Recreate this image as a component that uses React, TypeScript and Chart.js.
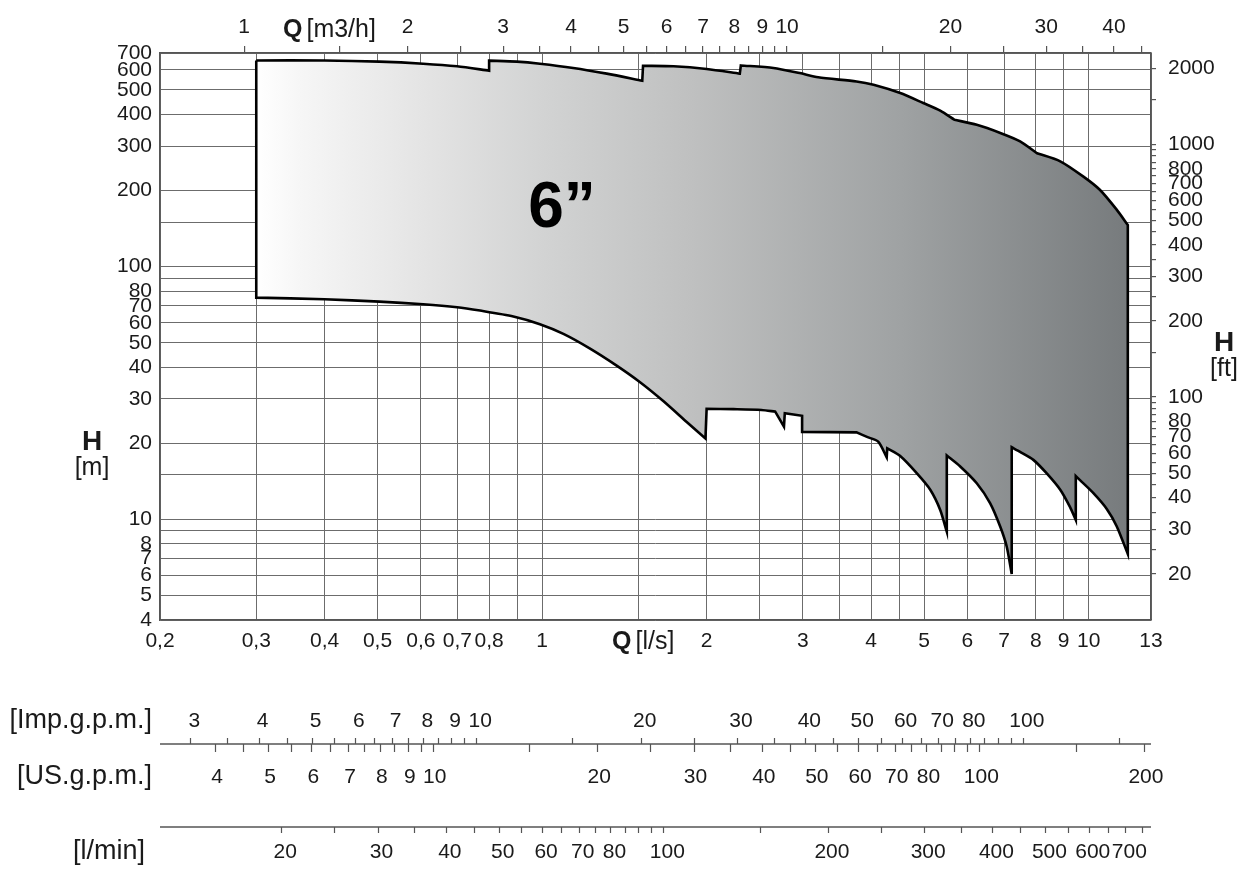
import React, { useEffect, useRef } from 'react';
import { Chart, registerables } from 'chart.js';

Chart.register(...registerables);

const FONT = '"Liberation Sans", Arial, Helvetica, sans-serif';

// Upper boundary of the 6" range, left to right (Q in l/s, H in m)
const upperQ = [0.3, 0.4, 0.504, 0.606, 0.699, 0.8, 0.8, 0.899, 0.991, 1.14, 1.313, 1.525, 1.53, 1.74, 2.0, 2.3, 2.31, 2.65, 2.96, 3.2, 3.76, 4.04, 4.52, 4.98, 5.35, 5.68, 6.24, 6.89, 7.49, 8.04, 8.87, 9.78, 10.49, 11.25, 11.79];
const upperH = [654, 654, 647, 635, 620, 596, 653, 647, 635, 611, 580, 544, 623, 620, 605, 580, 625, 611, 583, 561, 540, 524, 486, 444, 414, 381, 364, 338, 313, 281, 261, 227, 201, 168, 146];
// bends on the upper boundary that stay sharp
const upperKinks = [5.68, 8.04];

// Lower boundary of the 6" range, left to right (Q in l/s, H in m)
const lowerQ = [0.3, 0.4, 0.504, 0.606, 0.699, 0.77, 0.886, 0.991, 1.094, 1.224, 1.369, 1.511, 1.666, 1.839, 1.99, 2.0, 2.24, 2.52, 2.67, 2.77, 2.78, 2.99, 2.99, 3.76, 3.93, 4.12, 4.27, 4.28, 4.52, 4.85, 5.13, 5.35, 5.5, 5.5, 5.82, 6.24, 6.6, 6.89, 7.08, 7.23, 7.23, 7.49, 7.92, 8.38, 8.87, 9.24, 9.47, 9.47, 9.64, 10.2, 10.79, 11.25, 11.79];
const lowerH = [75.4, 74.3, 72.7, 71.0, 69.1, 67.0, 63.5, 59.2, 54.2, 47.4, 40.6, 34.9, 29.4, 24.3, 20.9, 27.4, 27.3, 27.1, 26.7, 23.3, 26.3, 25.7, 22.2, 22.1, 21.2, 20.3, 17.6, 19.1, 17.8, 15.2, 13.1, 10.9, 8.94, 17.9, 16.2, 13.9, 11.6, 9.35, 7.8, 6.08, 19.3, 18.5, 17.2, 15.2, 13.1, 11.2, 9.94, 14.85, 14.3, 12.7, 11.0, 9.4, 7.3];
// bends on the lower boundary that stay sharp
const lowerKinks = [2.67, 3.76];

// Q [l/s] axis
const qGrid = [0.2, 0.3, 0.4, 0.5, 0.6, 0.7, 0.8, 0.9, 1, 1.5, 2, 2.5, 3, 3.5, 4, 4.5, 5, 6, 7, 8, 9, 10, 13];
const qLabeled = [0.2, 0.3, 0.4, 0.5, 0.6, 0.7, 0.8, 1, 2, 3, 4, 5, 6, 7, 8, 9, 10, 13];
// H [m] axis
const hGrid = [4, 5, 6, 7, 8, 9, 10, 15, 20, 30, 40, 50, 60, 70, 80, 90, 100, 150, 200, 300, 400, 500, 600, 700];
const hLabeled = [4, 5, 6, 7, 8, 10, 20, 30, 40, 50, 60, 70, 80, 100, 200, 300, 400, 500, 600, 700];
// H [ft] axis
const ftTicks = [20, 25, 30, 35, 40, 45, 50, 55, 60, 65, 70, 75, 80, 85, 90, 95, 100, 150, 200, 250, 300, 350, 400, 450, 500, 550, 600, 650, 700, 750, 800, 850, 900, 950, 1000, 1500, 2000];
const ftLabeled = [20, 30, 40, 50, 60, 70, 80, 100, 200, 300, 400, 500, 600, 700, 800, 1000, 2000];
// Q [m3/h] axis
const m3hTicks = [1, 1.5, 2, 2.5, 3, 3.5, 4, 4.5, 5, 5.5, 6, 6.5, 7, 7.5, 8, 8.5, 9, 9.5, 10, 15, 20, 25, 30, 35, 40, 45];
const m3hLabeled = [1, 2, 3, 4, 5, 6, 7, 8, 9, 10, 20, 30, 40];
// Imp.g.p.m. axis
const impTicks = [3, 3.5, 4, 4.5, 5, 5.5, 6, 6.5, 7, 7.5, 8, 8.5, 9, 9.5, 10, 15, 20, 25, 30, 35, 40, 45, 50, 55, 60, 65, 70, 75, 80, 85, 90, 95, 100, 150];
const impLabeled = [3, 4, 5, 6, 7, 8, 9, 10, 20, 30, 40, 50, 60, 70, 80, 100];
// US.g.p.m. axis
const usTicks = [4, 4.5, 5, 5.5, 6, 6.5, 7, 7.5, 8, 8.5, 9, 9.5, 10, 15, 20, 25, 30, 35, 40, 45, 50, 55, 60, 65, 70, 75, 80, 85, 90, 95, 100, 150, 200];
const usLabeled = [4, 5, 6, 7, 8, 9, 10, 20, 30, 40, 50, 60, 70, 80, 100, 200];
// l/min axis
const lminTicks = [20, 25, 30, 35, 40, 45, 50, 55, 60, 65, 70, 75, 80, 85, 90, 95, 100, 150, 200, 250, 300, 350, 400, 450, 500, 550, 600, 650, 700, 750];
const lminLabeled = [20, 30, 40, 50, 60, 70, 80, 100, 200, 300, 400, 500, 600, 700];

const M_TO_FT = 3.28084;
const LS_TO_M3H = 3.6;
const IMP_TO_LS = 4.54609 / 60;
const US_TO_LS = 3.785412 / 60;
const LMIN_TO_LS = 1 / 60;

const fmtComma = (v: number) => String(v).replace('.', ',');

// Builds the boundary points; sharp corners are doubled so the spline keeps them pointed.
function boundary(qs: number[], hs: number[], kinks: number[]) {
  const pts: { x: number; y: number }[] = [];
  const n = qs.length;
  const near = (a: number, b: number) => Math.abs(Math.log(a / b)) < 0.01;
  for (let i = 0; i < n; i++) {
    const p = { x: qs[i], y: hs[i] };
    const sharp =
      i === 0 ||
      i === n - 1 ||
      kinks.includes(qs[i]) ||
      (i > 0 && near(qs[i], qs[i - 1])) ||
      (i < n - 1 && near(qs[i], qs[i + 1]));
    pts.push(p);
    if (sharp) pts.push({ ...p });
  }
  return pts;
}

function drawTitle(ctx: CanvasRenderingContext2D, bold: string, rest: string, x: number, y: number, size: number) {
  ctx.textAlign = 'left';
  ctx.font = `bold ${size}px ${FONT}`;
  ctx.fillText(bold, x, y);
  const w = ctx.measureText(bold).width;
  ctx.font = `${size}px ${FONT}`;
  ctx.fillText(rest, x + w + 4, y);
}

const overlay = {
  id: 'overlay',
  afterDraw(chart: any) {
    const ctx: CanvasRenderingContext2D = chart.ctx;
    const xs = chart.scales.x;
    ctx.save();
    ctx.fillStyle = '#1a1a1a';
    ctx.textBaseline = 'middle';

    // axis titles
    drawTitle(ctx, 'Q', '[m3/h]', 283, 30, 25);
    drawTitle(ctx, 'Q', '[l/s]', 612, 642, 25);
    ctx.textAlign = 'center';
    ctx.font = `bold 28px ${FONT}`;
    ctx.fillText('H', 92, 442);
    ctx.fillText('H', 1224, 343);
    ctx.font = `25px ${FONT}`;
    ctx.fillText('[m]', 92, 468);
    ctx.fillText('[ft]', 1224, 369);

    // range label
    ctx.font = `bold 64px ${FONT}`;
    ctx.fillStyle = '#000';
    ctx.fillText('6\u201d', 562, 209);

    // extra flow scales under the chart
    const left = xs.left;
    const right = xs.right;
    ctx.strokeStyle = '#555';
    const hline = (y: number) => {
      ctx.lineWidth = 1.6;
      ctx.beginPath();
      ctx.moveTo(left, y);
      ctx.lineTo(right, y);
      ctx.stroke();
    };
    const ticks = (vals: number[], f: number, y0: number, y1: number) => {
      ctx.lineWidth = 1.2;
      for (const v of vals) {
        const px = Math.round(xs.getPixelForValue(v * f)) + 0.5;
        ctx.beginPath();
        ctx.moveTo(px, y0);
        ctx.lineTo(px, y1);
        ctx.stroke();
      }
    };
    const labels = (vals: number[], f: number, y: number, dx: number) => {
      ctx.fillStyle = '#1a1a1a';
      ctx.font = `21px ${FONT}`;
      ctx.textAlign = 'center';
      for (const v of vals) {
        ctx.fillText(String(v), xs.getPixelForValue(v * f) + dx, y);
      }
    };
    hline(744);
    ticks(impTicks, IMP_TO_LS, 744, 738);
    ticks(usTicks, US_TO_LS, 744, 752);
    labels(impLabeled, IMP_TO_LS, 721, 4);
    labels(usLabeled, US_TO_LS, 777, 2);
    hline(827);
    ticks(lminTicks, LMIN_TO_LS, 827, 833);
    labels(lminLabeled, LMIN_TO_LS, 852, 4);

    ctx.textAlign = 'right';
    ctx.font = `27px ${FONT}`;
    ctx.fillText('[Imp.g.p.m.]', 152, 721);
    ctx.fillText('[US.g.p.m.]', 152, 777);
    ctx.fillText('[l/min]', 145, 852);
    ctx.restore();
  },
};

export default function App() {
  const ref = useRef<HTMLCanvasElement>(null);

  useEffect(() => {
    const canvas = ref.current;
    if (!canvas) return;

    const upperPts = boundary(upperQ, upperH, upperKinks);
    const lowerPts = boundary(lowerQ, lowerH, lowerKinks).reverse();
    const polygon = [...upperPts, ...lowerPts, { x: upperQ[0], y: upperH[0] }, { x: upperQ[0], y: upperH[0] }];

    const tickFont = { family: FONT, size: 21 };
    const tickColor = '#1a1a1a';
    const gridColor = '#6c6c6c';

    const chart = new Chart(canvas, {
      type: 'scatter',
      data: {
        datasets: [
          {
            data: polygon,
            showLine: true,
            fill: 'shape',
            borderColor: '#000',
            borderWidth: 2.6,
            borderJoinStyle: 'miter',
            pointRadius: 0,
            pointHoverRadius: 0,
            tension: 0.25,
            backgroundColor: (c: any) => {
              const ch = c.chart;
              if (!ch.chartArea) return '#cccccc';
              const xs = ch.scales.x;
              const x0 = xs.getPixelForValue(upperQ[0]);
              const x1 = xs.getPixelForValue(upperQ[upperQ.length - 1]);
              const g = ch.ctx.createLinearGradient(x0, 0, x1, 0);
              g.addColorStop(0, '#ffffff');
              g.addColorStop(0.05, '#f6f6f6');
              g.addColorStop(0.2, '#e3e3e3');
              g.addColorStop(0.33, '#d2d3d3');
              g.addColorStop(0.5, '#bfc0c0');
              g.addColorStop(0.74, '#9fa2a3');
              g.addColorStop(1, '#777b7d');
              return g;
            },
          } as any,
        ],
      },
      options: {
        responsive: false,
        animation: false,
        events: [],
        layout: { padding: 0 },
        plugins: {
          legend: { display: false },
          tooltip: { enabled: false },
        },
        scales: {
          x: {
            type: 'logarithmic',
            position: 'bottom',
            min: 0.2,
            max: 13,
            afterFit: (s: any) => {
              s.height = 256;
            },
            afterBuildTicks: (s: any) => {
              s.ticks = qGrid.map((v) => ({ value: v }));
            },
            ticks: {
              autoSkip: false,
              maxRotation: 0,
              padding: 9,
              color: tickColor,
              font: tickFont,
              callback: (v: any) => (qLabeled.includes(Number(v)) ? fmtComma(Number(v)) : ''),
            },
            grid: { color: gridColor, lineWidth: 1, drawTicks: false },
            border: { color: '#555555', width: 1.5 },
          },
          x2: {
            type: 'logarithmic',
            position: 'top',
            min: 0.2 * LS_TO_M3H,
            max: 13 * LS_TO_M3H,
            afterFit: (s: any) => {
              s.height = 53;
            },
            afterBuildTicks: (s: any) => {
              s.ticks = m3hTicks.map((v) => ({ value: v }));
            },
            ticks: {
              autoSkip: false,
              maxRotation: 0,
              padding: 6,
              color: tickColor,
              font: tickFont,
              callback: (v: any) => (m3hLabeled.includes(Number(v)) ? String(v) : ''),
            },
            grid: { drawOnChartArea: false, drawTicks: true, tickLength: 7, color: '#555555', lineWidth: 1.2 },
            border: { color: '#555555', width: 1.5 },
          },
          y: {
            type: 'logarithmic',
            position: 'left',
            min: 4,
            max: 700,
            afterFit: (s: any) => {
              s.width = 160;
            },
            afterBuildTicks: (s: any) => {
              s.ticks = hGrid.map((v) => ({ value: v }));
            },
            ticks: {
              autoSkip: false,
              padding: 8,
              color: tickColor,
              font: tickFont,
              callback: (v: any) => (hLabeled.includes(Number(v)) ? String(v) : ''),
            },
            grid: { color: gridColor, lineWidth: 1, drawTicks: false },
            border: { color: '#555555', width: 1.5 },
          },
          y2: {
            type: 'logarithmic',
            position: 'right',
            min: 4 * M_TO_FT,
            max: 700 * M_TO_FT,
            afterFit: (s: any) => {
              s.width = 96;
            },
            afterBuildTicks: (s: any) => {
              s.ticks = ftTicks.map((v) => ({ value: v }));
            },
            ticks: {
              autoSkip: false,
              padding: 12,
              color: tickColor,
              font: tickFont,
              callback: (v: any) => (ftLabeled.includes(Number(v)) ? String(v) : ''),
            },
            grid: { drawOnChartArea: false, drawTicks: true, tickLength: 5, color: '#555555', lineWidth: 1.2 },
            border: { color: '#555555', width: 1.5 },
          },
        },
      } as any,
      plugins: [overlay as any],
    });

    return () => {
      chart.destroy();
    };
  }, []);

  return (
    <div style={{ position: 'absolute', left: 0, top: 0, width: 1247, height: 876, background: '#ffffff' }}>
      <canvas ref={ref} width={1247} height={876} style={{ width: 1247, height: 876, display: 'block' }} />
    </div>
  );
}
